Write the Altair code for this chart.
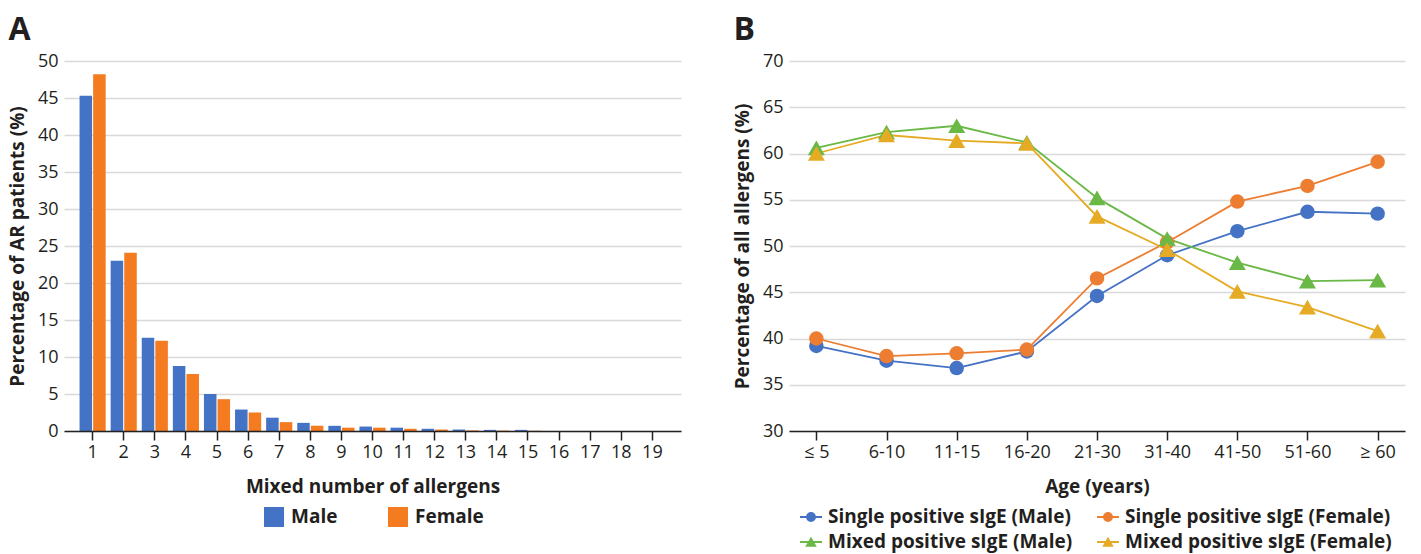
import altair as alt
import pandas as pd

# ---------------- Data ----------------
allergen_counts = list(range(1, 20))
male_pct = [45.3, 23.0, 12.6, 8.8, 5.0, 2.9, 1.8, 1.1, 0.7, 0.6, 0.45, 0.3, 0.2, 0.15, 0.15, 0, 0, 0, 0]
female_pct = [48.2, 24.1, 12.2, 7.7, 4.3, 2.5, 1.2, 0.7, 0.45, 0.45, 0.3, 0.2, 0.08, 0.05, 0.03, 0, 0, 0, 0]
sexes = ["Male", "Female"]

age_groups = ["≤ 5", "6-10", "11-15", "16-20", "21-30", "31-40", "41-50", "51-60", "≥ 60"]
single_male = [39.2, 37.6, 36.8, 38.6, 44.6, 49.0, 51.6, 53.7, 53.5]
single_female = [40.0, 38.1, 38.4, 38.8, 46.5, 50.4, 54.8, 56.5, 59.1]
mixed_male = [60.6, 62.3, 63.0, 61.2, 55.2, 50.8, 48.2, 46.2, 46.3]
mixed_female = [60.0, 62.0, 61.4, 61.1, 53.2, 49.6, 45.1, 43.4, 40.8]
series_names = [
    "Single positive sIgE (Male)",
    "Single positive sIgE (Female)",
    "Mixed positive sIgE (Male)",
    "Mixed positive sIgE (Female)",
]

# ---------------- Styles ----------------
FONT = "Open Sans"
TXT = "#231f20"
GRID = "#d9d9d9"
LBL = 18
TTL = 19
bar_colors = ["#4472c4", "#f47b20"]
line_colors = ["#4472c4", "#ed7d31", "#6ab845", "#e6ab24"]

bar_rows = []
for i, n in enumerate(allergen_counts):
    bar_rows.append({"n": n, "sex": "Male", "value": male_pct[i]})
    bar_rows.append({"n": n, "sex": "Female", "value": female_pct[i]})
bar_df = pd.DataFrame(bar_rows)

line_rows = []
for s, col, vals in zip(series_names, line_colors,
                        [single_male, single_female, mixed_male, mixed_female]):
    for a, v in zip(age_groups, vals):
        line_rows.append({"age": a, "series": s, "value": v, "hex": col,
                          "kind": "Single" if s.startswith("Single") else "Mixed"})
line_df = pd.DataFrame(line_rows)

x_axis_common = dict(labelAngle=0, grid=False, domainColor="#222", domainWidth=1.5,
                     tickColor="#222", tickWidth=1.5, tickSize=9, labelPadding=3,
                     titlePadding=16, zindex=1)
y_axis_common = dict(domain=False, ticks=False, grid=True, gridColor=GRID, gridWidth=1.5,
                     labelPadding=6, titlePadding=10)

# ---------------- Panel A ----------------
legend_a = alt.Legend(
    title=None, orient="none", legendX=200, legendY=446, direction="horizontal",
    symbolType="square", symbolSize=400, symbolStrokeWidth=0, labelFont=FONT,
    labelFontSize=TTL, labelFontWeight="bold", labelColor=TXT, labelOffset=7,
    columnPadding=50, padding=0,
)

panel_a = alt.Chart(bar_df).mark_bar().encode(
    x=alt.X("n:O", sort=allergen_counts,
            scale=alt.Scale(paddingInner=0.16, paddingOuter=0.5),
            axis=alt.Axis(title="Mixed number of allergens", **x_axis_common)),
    xOffset=alt.XOffset("sex:N", sort=sexes, scale=alt.Scale(paddingInner=0.08)),
    y=alt.Y("value:Q", scale=alt.Scale(domain=[0, 50], nice=False),
            axis=alt.Axis(title="Percentage of AR patients (%)", values=list(range(0, 51, 5)),
                          **y_axis_common)),
    fill=alt.Fill("sex:N", scale=alt.Scale(domain=sexes, range=bar_colors), legend=legend_a),
).properties(
    width=617, height=370,
    title=alt.Title("A", anchor="start", fontSize=32, font=FONT, fontWeight="bold",
                    color=TXT, offset=5),
)

# ---------------- Panel B ----------------
circle_path = ("M-1,-0.08L1,-0.08L1,0.08L-1,0.08Z "
               "M0.45,0A0.45,0.45,0,1,1,-0.45,0A0.45,0.45,0,1,1,0.45,0Z")
tri_path = ("M-1,-0.08L1,-0.08L1,0.08L-1,0.08Z "
            "M0,-0.47L0.52,0.43L-0.52,0.43Z")

x_b = alt.X("age:N", sort=age_groups,
            scale=alt.Scale(type="point", padding=0.39),
            axis=alt.Axis(title="Age (years)", **x_axis_common))
y_b = alt.Y("value:Q", scale=alt.Scale(domain=[30, 70], nice=False),
            axis=alt.Axis(title="Percentage of all allergens (%)", values=list(range(30, 71, 5)),
                          **y_axis_common))

base_b = alt.Chart(line_df)
lines = base_b.mark_line(strokeWidth=1.8).encode(
    x=x_b, y=y_b, stroke=alt.Stroke("hex:N", scale=None), detail="series:N",
)
circles = base_b.transform_filter(alt.datum.kind == "Single").mark_circle(
    size=210, opacity=1).encode(
    x=x_b, y=y_b, fill=alt.Fill("hex:N", scale=None),
)
triangles = base_b.transform_filter(alt.datum.kind == "Mixed").mark_point(
    shape="triangle-up", filled=True, size=290, opacity=1).encode(
    x=x_b, y=y_b, fill=alt.Fill("hex:N", scale=None),
)

legend_b = alt.Legend(
    title=None, orient="none", legendX=11, legendY=445, columns=2, direction="horizontal",
    symbolSize=484, symbolStrokeWidth=0, labelFont=FONT, labelFontSize=TTL,
    labelFontWeight="bold", labelColor=TXT, labelOffset=6, columnPadding=24,
    rowPadding=4, padding=0, labelLimit=400,
)
legend_layer = base_b.transform_filter("false").mark_point(filled=True, opacity=1).encode(
    x=x_b, y=y_b,
    color=alt.Color("series:N", scale=alt.Scale(domain=series_names, range=line_colors),
                    legend=legend_b),
    shape=alt.Shape("series:N", scale=alt.Scale(domain=series_names,
                                                range=[circle_path, circle_path, tri_path, tri_path]),
                    legend=legend_b),
)

panel_b = alt.layer(lines, circles, triangles, legend_layer).properties(
    width=616, height=370,
    title=alt.Title("B", anchor="start", fontSize=32, font=FONT, fontWeight="bold",
                    color=TXT, offset=5),
)

chart = alt.hconcat(panel_a, panel_b, spacing=52).resolve_scale(
    fill="independent", color="independent", shape="independent"
).resolve_legend(
    fill="independent", color="independent", shape="independent"
).properties(
    padding={"left": 8, "top": 14, "right": 10, "bottom": 5}
).configure_view(stroke=None).configure_axis(
    labelFont=FONT, titleFont=FONT, labelFontSize=LBL, titleFontSize=TTL,
    titleFontWeight="bold", labelColor=TXT, titleColor=TXT,
)

chart.save("out.html", embed_options={"renderer": "svg", "actions": False})
